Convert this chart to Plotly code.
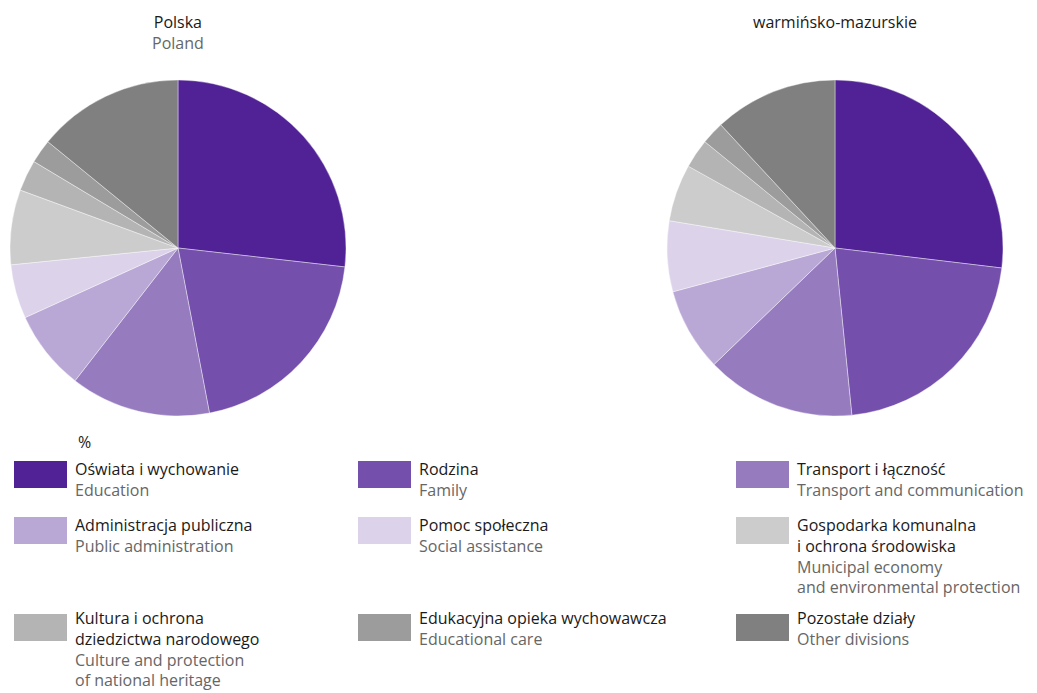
import plotly.graph_objects as go

W, H = 1037, 693

categories_pl = ["Oświata i wychowanie", "Rodzina", "Transport i łączność",
                 "Administracja publiczna", "Pomoc społeczna",
                 "Gospodarka komunalna<br>i ochrona środowiska",
                 "Kultura i ochrona<br>dziedzictwa narodowego",
                 "Edukacyjna opieka wychowawcza", "Pozostałe działy"]
categories_en = ["Education", "Family", "Transport and communication",
                 "Public administration", "Social assistance",
                 "Municipal economy<br>and environmental protection",
                 "Culture and protection<br>of national heritage",
                 "Educational care", "Other divisions"]
colors = ["#512295", "#744fab", "#967bbf", "#b9a8d5", "#dcd3ea",
          "#cccccc", "#b4b4b4", "#9c9c9c", "#808080"]

polska = [26.8, 20.2, 13.5, 7.7, 5.2, 7.2, 3.0, 2.3, 14.1]
warm_maz = [26.9, 21.5, 14.4, 8.0, 6.8, 5.5, 2.8, 2.2, 11.9]

def px_x(x):
    return x / W

def px_y(y):
    return 1 - y / H

fig = go.Figure()
plain = [c.replace("<br>", " ") for c in categories_pl]
for vals, cx, name in [(polska, 178, "Polska"), (warm_maz, 835, "warmińsko-mazurskie")]:
    r = 168
    fig.add_trace(go.Pie(
        labels=plain, values=vals, name=name,
        sort=False, direction="clockwise", rotation=0,
        marker=dict(colors=colors, line=dict(color="white", width=0.4)),
        textinfo="none", hoverinfo="label+value",
        domain=dict(x=[px_x(cx - r), px_x(cx + r)], y=[px_y(248 + r), px_y(248 - r)]),
        showlegend=False,
    ))

FONT = "Open Sans"
FS = 16
annotations = []
shapes = []

annotations.append(dict(text="Polska<br><span style='color:#666666'>Poland</span>",
                        x=px_x(178), y=px_y(9), xref="paper", yref="paper",
                        xanchor="center", yanchor="top", showarrow=False,
                        font=dict(family=FONT, size=16, color="#1a1a1a")))
annotations.append(dict(text="warmińsko-mazurskie",
                        x=px_x(835), y=px_y(9), xref="paper", yref="paper",
                        xanchor="center", yanchor="top", showarrow=False,
                        font=dict(family=FONT, size=16, color="#1a1a1a")))
annotations.append(dict(text="%", x=px_x(76), y=px_y(429), xref="paper", yref="paper",
                        xanchor="left", yanchor="top", showarrow=False,
                        font=dict(family=FONT, size=FS, color="#1a1a1a")))

col_x = [14, 358, 736]
row_y = [461, 517, 614]
text_top = [456, 512, 605]
for i, (pl, en, c) in enumerate(zip(categories_pl, categories_en, colors)):
    row, col = divmod(i, 3)
    sx, sy = col_x[col], row_y[row]
    shapes.append(dict(type="rect", xref="paper", yref="paper",
                       x0=px_x(sx), x1=px_x(sx + 53), y0=px_y(sy), y1=px_y(sy + 27),
                       fillcolor=c, line=dict(width=0)))
    annotations.append(dict(
        text=f"{pl}<br><span style='color:#666666'>{en}</span>",
        x=px_x(sx + 59), y=px_y(text_top[row]), xref="paper", yref="paper",
        xanchor="left", yanchor="top", align="left", showarrow=False,
        font=dict(family=FONT, size=FS, color="#1a1a1a")))

fig.update_layout(
    width=W, height=H,
    margin=dict(l=0, r=0, t=0, b=0),
    paper_bgcolor="white", plot_bgcolor="white",
    annotations=annotations, shapes=shapes,
)

fig.write_html("out.html", config={"displayModeBar": False},
               post_script="document.body.style.margin='0';document.body.style.overflow='hidden';")
